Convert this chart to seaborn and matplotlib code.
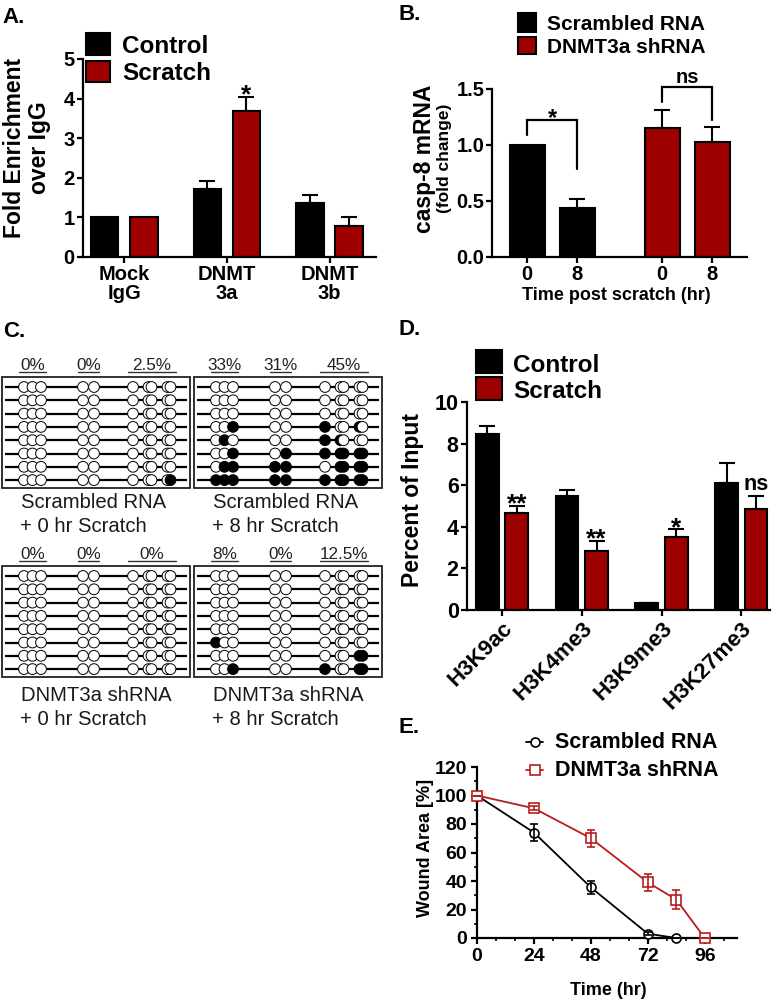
import matplotlib
matplotlib.use("Agg")
import matplotlib.pyplot as plt
from matplotlib.patches import Rectangle
from matplotlib.ticker import MultipleLocator
import numpy as np
import pandas as pd
import seaborn as sns

# ======================= data =======================
# A. DNMT ChIP
a_targets = ["Mock\nIgG", "DNMT\n3a", "DNMT\n3b"]
a_conditions = ["Control", "Scratch"]
a_control = [1.0, 1.72, 1.36]
a_control_err = [0.0, 0.21, 0.21]
a_scratch = [1.0, 3.69, 0.78]
a_scratch_err = [0.0, 0.35, 0.23]
a_scratch_sig = ["", "*", ""]

# B. casp-8 mRNA
b_conditions = ["Scrambled RNA", "DNMT3a shRNA"]
b_bar_condition = ["Scrambled RNA", "Scrambled RNA", "DNMT3a shRNA", "DNMT3a shRNA"]
b_time_labels = ["0", "8", "0", "8"]
b_values = [1.0, 0.44, 1.155, 1.024]
b_err = [0.0, 0.078, 0.155, 0.136]
b_sig = ["*", "ns"]

# C. bisulfite sequencing (1 = methylated CpG)
c_sample_lines = [("Scrambled RNA", "+ 0 hr Scratch"), ("Scrambled RNA", "+ 8 hr Scratch"),
                  ("DNMT3a shRNA", "+ 0 hr Scratch"), ("DNMT3a shRNA", "+ 8 hr Scratch")]
c_region_sizes = [3, 2, 5]
c_scrambled_0hr = ["000 00 00000"] * 7 + ["000 00 00001"]
c_scrambled_8hr = ["000 00 00000", "000 00 00000", "000 00 00000", "001 00 10010",
                   "010 00 11000", "001 01 11111", "011 11 01111", "111 11 11111"]
c_shrna_0hr = ["000 00 00000"] * 8
c_shrna_8hr = ["000 00 00000"] * 5 + ["100 00 00000", "000 00 00011", "001 00 10011"]

# D. histone marks
d_marks = ["H3K9ac", "H3K4me3", "H3K9me3", "H3K27me3"]
d_conditions = ["Control", "Scratch"]
d_control = [8.44, 5.47, 0.33, 6.09]
d_control_err = [0.43, 0.29, 0.03, 0.96]
d_scratch = [4.65, 2.83, 3.50, 4.84]
d_scratch_err = [0.34, 0.48, 0.38, 0.63]
d_scratch_sig = ["**", "**", "*", "ns"]

# E. wound closure
e_series = ["Scrambled RNA", "DNMT3a shRNA"]
e_time_scr = [0, 24, 48, 72, 84]
e_scr = [100, 74, 35.5, 3, 0]
e_scr_err = [0, 6, 4.5, 1, 0]
e_time_sh = [0, 24, 48, 72, 84, 96]
e_sh = [100, 91, 70, 39, 27, 0]
e_sh_err = [0, 1.5, 6, 6, 6.5, 0]

# ======================= style =======================
sns.set_style("ticks", {"axes.edgecolor": "black", "xtick.color": "black", "ytick.color": "black",
                        "text.color": "black", "axes.labelcolor": "black"})
plt.rcParams["font.family"] = ["Liberation Sans", "DejaVu Sans"]
plt.rcParams["font.weight"] = "bold"
plt.rcParams["axes.labelweight"] = "bold"

BLACK = "#000000"
RED = "#9e0000"
LRED = "#b81c1c"

W, H = 780, 1000
fig = plt.figure(figsize=(W / 100, H / 100), dpi=100)
fig.patch.set_facecolor("white")


def px_axes(l, t, r, b):
    ax = fig.add_axes([l / W, 1 - b / H, (r - l) / W, (b - t) / H])
    ax.set_facecolor("none")
    return ax


ov = fig.add_axes([0, 0, 1, 1], zorder=10)
ov.set_xlim(0, W)
ov.set_ylim(H, 0)
ov.axis("off")


def style_axes(ax, fs, pad=2):
    sns.despine(ax=ax)
    for s in ("left", "bottom"):
        ax.spines[s].set_linewidth(1.6)
    ax.tick_params(axis="both", which="major", direction="out", length=4, width=1.6,
                   labelsize=fs, pad=pad)


def add_up_errors(ax, err_lists):
    for cont, errs in zip(ax.containers, err_lists):
        for p, e in zip(cont.patches, errs):
            if e > 0:
                xc = p.get_x() + p.get_width() / 2
                ax.errorbar(xc, p.get_height(), yerr=[[0], [e]], fmt="none", ecolor="black",
                            elinewidth=1.5, capsize=5.5, capthick=1.5, zorder=3)


def annotate_sig(ax, x, y, s, size, dy):
    ax.annotate(s, xy=(x, y), xytext=(0, dy), textcoords="offset points", ha="center",
                va="baseline", fontsize=size, fontweight="bold", annotation_clip=False)


def legend_box(x, y_top, w, h, color):
    ov.add_patch(Rectangle((x, y_top), w, h, facecolor=color, edgecolor="black", lw=1.5))


def panel_label(x, baseline, s):
    ov.text(x, baseline, s, fontsize=16, fontweight="bold", va="baseline", ha="left")


# ======================= A =======================
dfA = pd.DataFrame({"target": a_targets * 2,
                    "condition": [a_conditions[0]] * 3 + [a_conditions[1]] * 3,
                    "value": a_control + a_scratch})
axA = px_axes(83, 59, 376, 257)
sns.barplot(data=dfA, x="target", y="value", hue="condition", order=a_targets,
            hue_order=a_conditions, palette=[BLACK, RED], saturation=1, width=0.76, gap=0.29,
            edgecolor="black", linewidth=1.5, errorbar=None, legend=False, ax=axA)
add_up_errors(axA, [a_control_err, a_scratch_err])
for p, e, s in zip(axA.containers[1].patches, a_scratch_err, a_scratch_sig):
    if s:
        annotate_sig(axA, p.get_x() + p.get_width() / 2, p.get_height() + e, s, 19, -4)
axA.set_xlim(-0.4, 2.45)
axA.set_ylim(0, 5)
axA.set_yticks(range(6))
axA.set_xlabel("")
axA.set_ylabel("Fold Enrichment\nover IgG", fontsize=16.5, va="center", linespacing=1.15)
axA.yaxis.set_label_coords(27, 148, transform=ov.transData)
style_axes(axA, 14.5)
for lab in axA.get_xticklabels():
    lab.set_linespacing(1.0)
legend_box(86, 33, 24, 22, BLACK)
legend_box(86, 61, 24, 21, RED)
ov.text(122, 53, a_conditions[0], fontsize=17.5, va="baseline")
ov.text(122, 80, a_conditions[1], fontsize=17.5, va="baseline")
panel_label(2, 23, "A.")

# ======================= B =======================
B_X = [0, 1, 2.7, 3.7]
B_BRACKETS = [(0, 1, 1.09, 1.224, 0.79, 17, -3.6), (2, 3, 1.38, 1.52, 1.22, 14.5, 2.4)]
dfB = pd.DataFrame({"pos": B_X, "condition": b_bar_condition, "value": b_values})
axB = px_axes(492, 89, 747, 257)
sns.barplot(data=dfB, x="pos", y="value", hue="condition", hue_order=b_conditions,
            palette=[BLACK, RED], saturation=1, native_scale=True, dodge=False, width=0.7,
            edgecolor="black", linewidth=1.5, errorbar=None, legend=False, ax=axB)
for x, v, e in zip(B_X, b_values, b_err):
    if e > 0:
        axB.errorbar(x, v, yerr=[[0], [e]], fmt="none", ecolor="black", elinewidth=1.5,
                     capsize=5.5, capthick=1.5, zorder=3)
for (i, j, yl, yt, yr, fs, dy), s in zip(B_BRACKETS, b_sig):
    axB.plot([B_X[i], B_X[i], B_X[j], B_X[j]], [yl, yt, yt, yr], color="black", lw=1.6,
             clip_on=False, solid_joinstyle="miter")
    annotate_sig(axB, (B_X[i] + B_X[j]) / 2, yt, s, fs, dy)
axB.set_xlim(-0.7, 4.4)
axB.set_ylim(0, 1.5)
axB.set_yticks([0, 0.5, 1.0, 1.5])
axB.set_yticklabels(["0.0", "0.5", "1.0", "1.5"])
axB.set_xticks(B_X)
axB.set_xticklabels(b_time_labels)
axB.set_xlabel("Time post scratch (hr)", fontsize=13, va="baseline")
axB.xaxis.set_label_coords(616, 300, transform=ov.transData)
axB.set_ylabel("casp-8 mRNA", fontsize=16.5, va="center")
axB.yaxis.set_label_coords(424, 159, transform=ov.transData)
ov.text(445, 158, "(fold change)", fontsize=12.5, rotation=90, ha="center", va="center")
style_axes(axB, 14.5, pad=1.5)
legend_box(518, 13, 18, 19, BLACK)
legend_box(518, 37, 18, 17, RED)
ov.text(547, 30, b_conditions[0], fontsize=15, va="baseline")
ov.text(547, 53, b_conditions[1], fontsize=15, va="baseline")
panel_label(398, 20, "B.")

# ======================= C =======================
C_BOX_LEFT = [2, 194]
C_BOX_TOP = [377, 566]
C_LABEL_BASE = [(508, 532), (701, 725)]
C_BOX_W, C_BOX_H = 188, 111
C_ROW0, C_ROW_STEP = 10, 13.3
C_SITE_X = [22, 30.5, 39, 81, 92, 131, 146.5, 149.5, 165.5, 168.5]
c_samples = [c_scrambled_0hr, c_scrambled_8hr, c_shrna_0hr, c_shrna_8hr]
region_bounds = np.cumsum([0] + c_region_sizes)
for k, rows in enumerate(c_samples):
    col, rr = k % 2, k // 2
    left, top = C_BOX_LEFT[col], C_BOX_TOP[rr]
    ov.add_patch(Rectangle((left, top), C_BOX_W, C_BOX_H, fill=False, edgecolor="#222222", lw=1.3))
    mat = np.array([[int(ch) for ch in r if ch in "01"] for r in rows])
    xs = [left + sx for sx in C_SITE_X]
    for i, bits in enumerate(mat):
        y = top + C_ROW0 + C_ROW_STEP * i
        ov.plot([left + 3, left + C_BOX_W - 3], [y, y], color="black", lw=1.6, zorder=2,
                solid_capstyle="butt")
        ov.scatter(xs, [y] * len(xs), s=60, facecolors=["black" if b else "white" for b in bits],
                   edgecolors="black", linewidths=0.7, zorder=3)
    for g in range(len(c_region_sizes)):
        a, b = region_bounds[g], region_bounds[g + 1]
        n = mat[:, a:b].size
        m = mat[:, a:b].sum()
        p = 100.0 * m / n
        if abs(p - round(p)) > 1e-9 and abs(p * 2 - round(p * 2)) < 1e-9:
            lab = f"{p:.1f}%"
        else:
            lab = f"{int(round(p))}%"
        x0, x1 = xs[a] - 5, xs[b - 1] + 5
        ov.plot([x0, x1], [top - 5.5, top - 5.5], color="#333333", lw=1.0)
        ov.text((x0 + x1) / 2, top - 7, lab, fontsize=12.3, fontweight="normal", ha="center",
                va="baseline", color="#222222")
    l1, l2 = c_sample_lines[k]
    ov.text(left + 19, C_LABEL_BASE[rr][0], l1, fontsize=14.6, fontweight="normal",
            va="baseline", color="#1a1a1a")
    ov.text(left + 18, C_LABEL_BASE[rr][1], l2, fontsize=14.6, fontweight="normal",
            va="baseline", color="#1a1a1a")
panel_label(3, 337, "C.")

# ======================= D =======================
dfD = pd.DataFrame({"mark": d_marks * 2,
                    "condition": [d_conditions[0]] * 4 + [d_conditions[1]] * 4,
                    "value": d_control + d_scratch})
axD = px_axes(467, 402, 770, 610)
sns.barplot(data=dfD, x="mark", y="value", hue="condition", order=d_marks,
            hue_order=d_conditions, palette=[BLACK, RED], saturation=1, width=0.74, gap=0.23,
            edgecolor="black", linewidth=1.5, errorbar=None, legend=False, ax=axD)
add_up_errors(axD, [d_control_err, d_scratch_err])
for p, e, s in zip(axD.containers[1].patches, d_scratch_err, d_scratch_sig):
    xc = p.get_x() + p.get_width() / 2
    if s == "ns":
        annotate_sig(axD, xc, p.get_height() + e, s, 15.5, 4.5)
    elif s:
        annotate_sig(axD, xc, p.get_height() + e, s, 19, -4)
axD.set_xlim(-0.44, 3.36)
axD.set_ylim(0, 10)
axD.set_yticks(range(0, 11, 2))
axD.set_xlabel("")
axD.set_ylabel("Percent of Input", fontsize=16.5, va="center")
axD.yaxis.set_label_coords(412, 500, transform=ov.transData)
style_axes(axD, 15.5)
plt.setp(axD.get_xticklabels(), rotation=45, ha="right", va="top", rotation_mode="anchor",
         fontsize=16)
legend_box(476, 350, 26, 23, BLACK)
legend_box(476, 377, 26, 23, RED)
ov.text(513, 372, d_conditions[0], fontsize=17.5, va="baseline")
ov.text(513, 398, d_conditions[1], fontsize=17.5, va="baseline")
panel_label(398, 335, "D.")

# ======================= E =======================
axE = px_axes(477, 767, 737, 938)
sns.lineplot(x=e_time_scr, y=e_scr, color="black", marker="o", markersize=6.5,
             markerfacecolor="white", markeredgecolor="black", markeredgewidth=1.2,
             linewidth=1.3, clip_on=False, zorder=4, ax=axE)
sns.lineplot(x=e_time_sh, y=e_sh, color=LRED, marker="s", markersize=6.5,
             markerfacecolor="white", markeredgecolor=LRED, markeredgewidth=1.2,
             linewidth=1.3, clip_on=False, zorder=4, ax=axE)
axE.errorbar(e_time_scr, e_scr, yerr=e_scr_err, fmt="none", ecolor="black", elinewidth=1.2,
             capsize=3, capthick=1.2, zorder=5, clip_on=False)
axE.errorbar(e_time_sh, e_sh, yerr=e_sh_err, fmt="none", ecolor=LRED, elinewidth=1.2,
             capsize=3, capthick=1.2, zorder=5, clip_on=False)
axE.set_xlim(0, 109.6)
axE.set_ylim(0, 120)
axE.set_xticks([0, 24, 48, 72, 96])
axE.xaxis.set_minor_locator(MultipleLocator(8))
axE.set_yticks(range(0, 121, 20))
axE.yaxis.set_minor_locator(MultipleLocator(10))
style_axes(axE, 14, pad=3)
axE.tick_params(which="minor", direction="out", length=2.5, width=1.2)
axE.set_xlabel("Time (hr)", fontsize=13, va="baseline")
axE.xaxis.set_label_coords(608, 995, transform=ov.transData)
axE.set_ylabel("Wound Area [%]", fontsize=13, va="center")
axE.yaxis.set_label_coords(426, 848, transform=ov.transData)
for yb, col, mk, lab in [(748, "black", "o", e_series[0]), (776, LRED, "s", e_series[1])]:
    yc = yb - 6
    ov.plot([526, 543], [yc, yc], color=col, lw=1.3)
    ov.plot([534.5], [yc], marker=mk, markersize=6.5, markerfacecolor="white",
            markeredgecolor=col, markeredgewidth=1.2)
    ov.text(555, yb, lab, fontsize=15.5, va="baseline")
panel_label(398, 733, "E.")

fig.savefig("out.png", dpi=100, facecolor="white")
